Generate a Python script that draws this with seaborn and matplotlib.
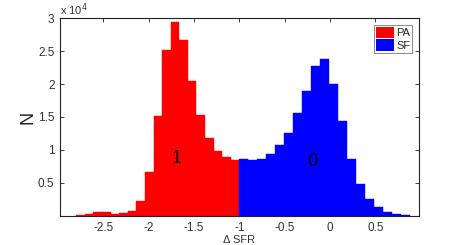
import numpy as np
import pandas as pd
import matplotlib
matplotlib.use("Agg")
from matplotlib import pyplot as plt
from matplotlib.patches import Patch
import seaborn as sns

# counts per bin, in units of 1e4
pa_counts = [0.01, 0.03, 0.06, 0.06, 0.035, 0.045, 0.07, 0.22, 0.667, 1.51,
             2.515, 2.935, 2.667, 2.05, 1.525, 1.187, 0.99, 0.894, 0.854]
sf_counts = [0.864, 0.854, 0.869, 0.944, 1.076, 1.258, 1.56, 1.894, 2.268, 2.378,
             2.0, 1.434, 0.864, 0.485, 0.263, 0.136, 0.066, 0.035, 0.015]
pa_range = (-2.80, -1.0)
sf_range = (-1.0, 0.887)
class_labels = ["PA", "SF"]
class_marks = ["1", "0"]
y_ticks = [0.5, 1, 1.5, 2, 2.5, 3]
x_ticks = [-2.5, -2, -1.5, -1, -0.5, 0, 0.5]

sns.set_theme(style="ticks")
plt.rcParams['font.family'] = ['Liberation Sans', 'DejaVu Sans']


def make_frame(counts, rng, name):
    edges = np.linspace(rng[0], rng[1], len(counts) + 1)
    centers = (edges[:-1] + edges[1:]) / 2
    frame = pd.DataFrame({"dSFR": centers, "N": np.array(counts) * 1e4, "cls": name})
    return frame, [float(e) for e in edges]


pa_df, pa_edges = make_frame(pa_counts, pa_range, class_labels[0])
sf_df, sf_edges = make_frame(sf_counts, sf_range, class_labels[1])

fig = plt.figure(figsize=(4.63, 2.45), dpi=100)
ax = fig.add_axes([0.1296, 0.1184, 0.7754, 0.8081])

sns.histplot(data=pa_df, x="dSFR", weights="N", bins=pa_edges, ax=ax,
             color="#ff0000", alpha=1, edgecolor="#ff0000", linewidth=0.3)
sns.histplot(data=sf_df, x="dSFR", weights="N", bins=sf_edges, ax=ax,
             color="#0000ff", alpha=1, edgecolor="#0000ff", linewidth=0.3)

ax.set_xlim(-2.98, 0.983)
ax.set_ylim(0, 3e4)
ax.set_xticks(x_ticks)
ax.set_xticklabels([f"{t:g}" for t in x_ticks])
ax.set_yticks([t * 1e4 for t in y_ticks])
ax.set_yticklabels([f"{t:g}" for t in y_ticks])
ax.tick_params(direction="in", length=3, width=0.6, labelsize=8.5, colors="#222222",
               top=True, right=True, pad=4)
ax.tick_params(axis="x", labelcolor="#333333")
ax.tick_params(axis="y", labelcolor="#333333")
for side in ["left", "right", "top", "bottom"]:
    ax.spines[side].set_visible(True)
    ax.spines[side].set_linewidth(0.8)
    ax.spines[side].set_color("#222222")

ax.set_xlabel("\u0394 SFR", fontsize=8, labelpad=1, color="#333333")
ax.set_ylabel("N", fontsize=13, labelpad=1, color="#222222")
ax.text(0.0, 1.0, "x 10$^{4}$", transform=ax.transAxes, fontsize=8,
        ha="left", va="bottom", color="#333333")

ax.text(-1.69, 0.87e4, class_marks[0], fontsize=13, ha="center", va="center", color="black")
ax.text(-0.197, 0.82e4, class_marks[1], fontsize=13, ha="center", va="center", color="black")

handles = [Patch(facecolor="#ff0000", edgecolor="none"), Patch(facecolor="#0000ff", edgecolor="none")]
leg = ax.legend(handles, class_labels, loc="upper right", fontsize=8, frameon=True,
                fancybox=False, borderpad=0.2, handlelength=1.6, handleheight=1.2,
                handletextpad=0.2, labelspacing=0.1, borderaxespad=0.6)
leg.get_frame().set_edgecolor("#555555")
leg.get_frame().set_linewidth(0.6)

fig.savefig("out.png", dpi=100)
